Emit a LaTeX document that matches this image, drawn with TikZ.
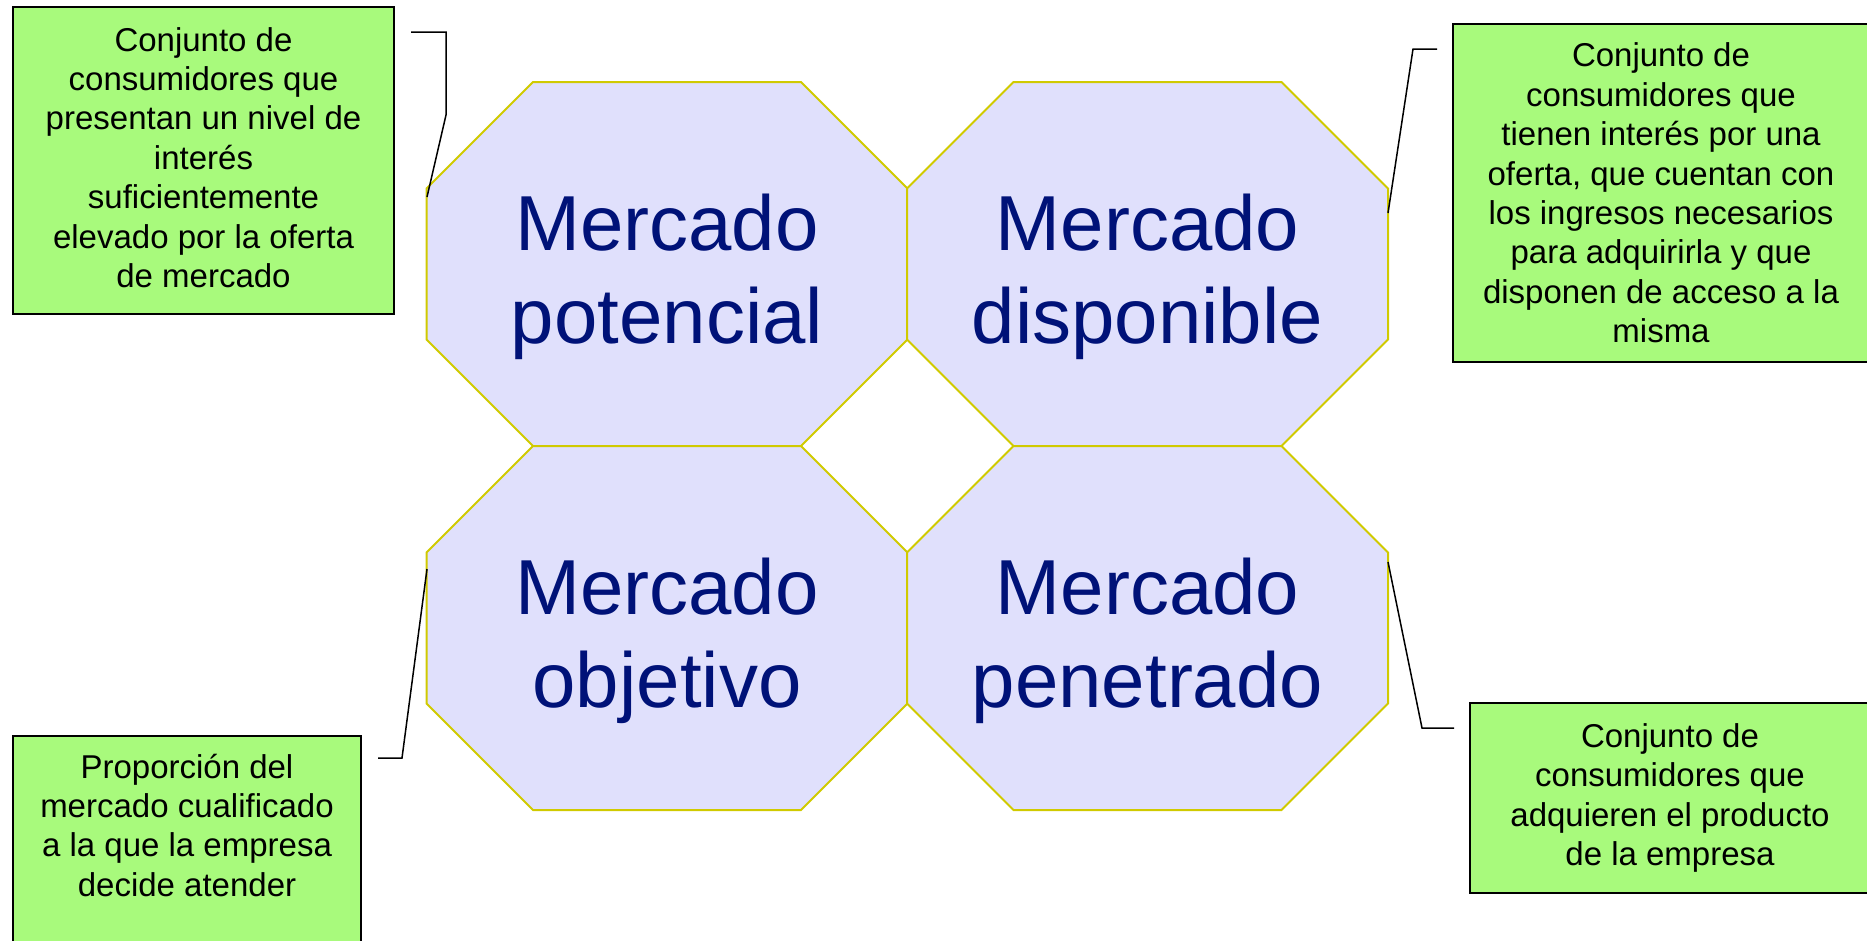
\documentclass[tikz,border=0pt]{standalone}
\usepackage{fontspec}
\setmainfont{Liberation Sans}
\usetikzlibrary{calc}
\definecolor{boxgreen}{RGB}{168,250,124}
\definecolor{octfill}{RGB}{224,224,252}
\definecolor{octline}{RGB}{208,202,0}
\definecolor{navytext}{RGB}{0,18,120}
\begin{document}
\begin{tikzpicture}[x=1pt,y=-1pt,
  octbord/.style={fill=octfill, draw=octline, line width=2pt},
  octagon/.pic={\draw[octbord] (-134,-182) -- (134,-182) -- (240.5,-75.5) -- (240.5,75.5) -- (134,182) -- (-134,182) -- (-240.5,75.5) -- (-240.5,-75.5) -- cycle;},
  bigtext/.style={text=navytext, font=\fontsize{78}{93}\selectfont, align=center, inner sep=0pt},
  gbox/.style={draw=black, fill=boxgreen, line width=1.7pt, inner sep=0pt, font=\fontsize{33}{39.4}\selectfont, align=center},
  btext/.style={font=\fontsize{33}{39.4}\selectfont, align=center, inner sep=0pt},
  conn/.style={draw=black, line width=1.5pt}]
\useasboundingbox (0,0) rectangle (1867,940);
\clip (0,0) rectangle (1867,940);

% octagons
\pic at (667,264) {octagon};
\pic at (1147.5,264) {octagon};
\pic at (667,628) {octagon};
\pic at (1147.5,628) {octagon};

\node[bigtext] (pot) at (667,277) {Mercado\\potencial};
\node[bigtext] (dis) at (1147.5,277) {Mercado\\disponible};
\node[bigtext] (obj) at (667,641) {Mercado\\objetivo};
\node[bigtext] (pen) at (1147.5,641) {Mercado\\penetrado};

% green boxes
\node[gbox, minimum width=381, minimum height=307] (b1) at (203.5,160.5) {};
\node[btext] (b1t) at (203.5,157.5)
  {Conjunto de\\consumidores que\\presentan un nivel de\\interés\\suficientemente\\elevado por la oferta\\de mercado};
\node[gbox, minimum width=416, minimum height=338] (b2) at (1661,193)
  {Conjunto de\\consumidores que\\tienen interés por una\\oferta, que cuentan con\\los ingresos necesarios\\para adquirirla y que\\disponen de acceso a la\\misma};
\node[gbox, minimum width=348, minimum height=224] (b3) at (187,848) {};
\node[btext, anchor=north] (b3t) at (187,753.5)
  {Proporción del\\mercado cualificado\\a la que la empresa\\decide atender};
\node[gbox, minimum width=400, minimum height=190.6] (b4) at (1670,798)
  {Conjunto de\\consumidores que\\adquieren el producto\\de la empresa};

% connector end points
\coordinate (c1a) at (411,32);
\coordinate (c1e) at (427,197);
\coordinate (c2a) at (1437,49);
\coordinate (c2e) at (1388,213);
\coordinate (c3a) at (378,758);
\coordinate (c3e) at (427,569);
\coordinate (c4a) at (1454,728);
\coordinate (c4e) at (1388,562);

\draw[conn] (c1a) -- ++(35,0) -- ++(0,83) -- (c1e);
\draw[conn] (c2a) -- ++(-24,0) -- (c2e);
\draw[conn] (c3a) -- ++(24,0) -- (c3e);
\draw[conn] (c4a) -- ++(-32,0) -- (c4e);
\end{tikzpicture}
\end{document}
